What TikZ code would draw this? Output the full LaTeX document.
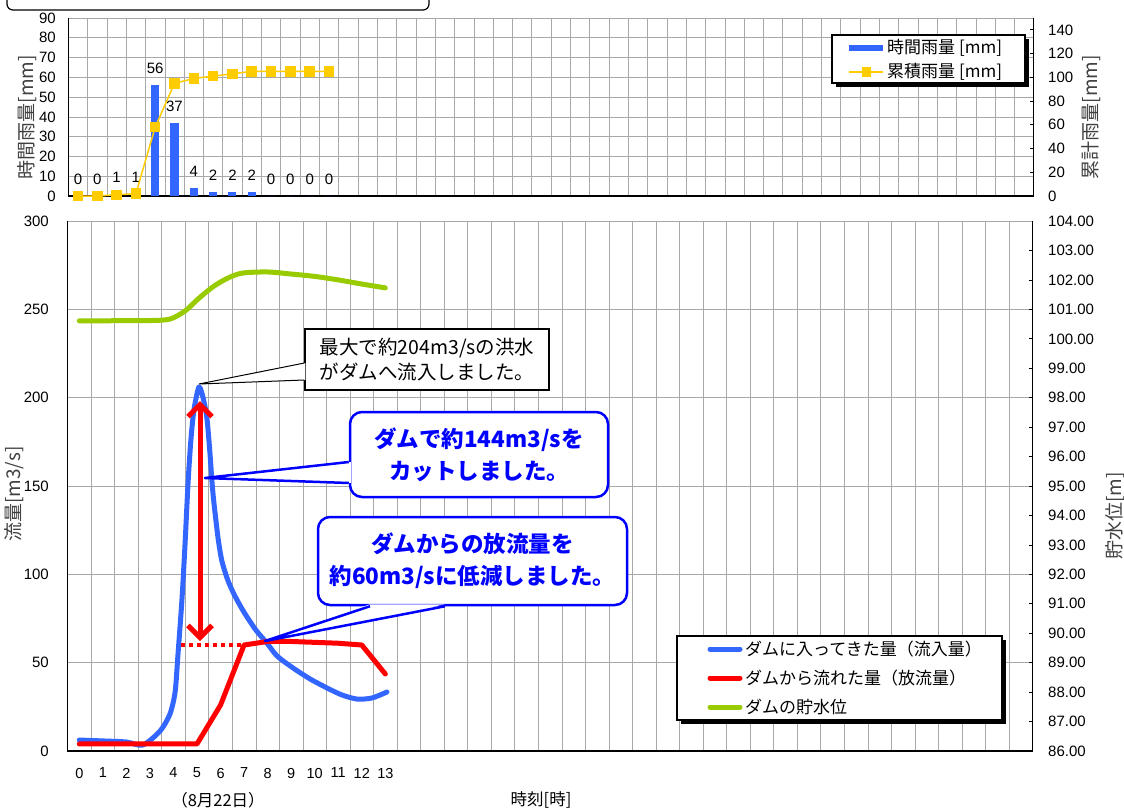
\documentclass[tikz,border=0pt]{standalone}
\usepackage{fontspec}
\setmainfont{Liberation Sans}
\newfontfamily\jp{Noto Sans CJK JP}
\usetikzlibrary{arrows.meta, plotmarks}

\definecolor{inflowblue}{HTML}{3366FF}
\definecolor{releasered}{HTML}{FF0000}
\definecolor{levelgreen}{HTML}{99CC00}
\definecolor{rainyellow}{HTML}{FFCC00}
\definecolor{noteblue}{HTML}{0000FF}
\definecolor{gridgray}{HTML}{A8A8A8}

\tikzset{
  grid line/.style = {gridgray, line width=0.6pt},
  axis line/.style = {black, line width=1.2pt},
  tick label/.style = {font=\fontsize{15}{15}\selectfont, inner sep=0pt},
  axis title/.style = {font=\jp\fontsize{19}{19}\selectfont, rotate=90, inner sep=0pt, text=black!75},
  curve/.style = {line width=5pt, line cap=round, line join=round},
  legend box/.style = {draw=black, line width=1.2pt, fill=white, inner sep=0pt},
  legend text/.style = {font=\jp\fontsize{17}{18}\selectfont, anchor=west, inner sep=0pt},
  peak box/.style = {draw=black, line width=1.2pt, fill=white, align=center,
    font=\jp\fontsize{19.5}{25}\selectfont},
  note box/.style = {draw=noteblue, line width=2.5pt, fill=white, rounded corners=12pt,
    align=center, text=noteblue, font=\jp\bfseries\fontsize{22.5}{32}\selectfont},
  cut arrow/.style = {releasered, line width=5pt,
    {Straight Barb[length=12pt, width=24pt]}-{Straight Barb[length=12pt, width=24pt]}},
}

\begin{document}
\begin{tikzpicture}[x=1pt, y=-1pt]
  \useasboundingbox (0,0) rectangle (1124,808);
  \fill[white] (0,0) rectangle (1124,808);

  % title frame, cut off at the top
  \draw[line width=1.2pt, rounded corners=6pt] (7,0) -- (7,10) -- (429,10) -- (429,0);

  % --- rainfall chart ---
  \foreach \k in {1,...,49}
    \draw[grid line] ({68.3+19.31*\k},18) -- ({68.3+19.31*\k},196);
  \foreach \v in {10,20,...,90}
    \draw[grid line] (68.3,{196-1.978*\v}) -- (1033.8,{196-1.978*\v});
  \foreach \v in {20,40,...,140}
    \draw[black, line width=0.8pt] (1030,{196-1.1867*\v}) -- (1033.8,{196-1.1867*\v});
  \draw[axis line] (68.3,18) -- (68.3,196) -- (1033.8,196) -- (1033.8,18);
  \foreach \v in {0,10,...,90}
    \node[tick label, anchor=east] (rain tick \v) at (56,{196-1.978*\v}) {\v};
  \foreach \v in {0,20,...,140}
    \node[tick label, anchor=west] (total tick \v) at (1048,{196-1.1867*\v}) {\v};
  \node[axis title] (rain title) at (27,117) {時間雨量[mm]};
  \node[axis title] (total title) at (1091,117) {累計雨量[mm]};

  \begin{scope}[shift={(77.95,196)}, x=19.31pt, y=1.978pt]
    \foreach \h/\r in {0/0,1/0,2/1,3/1,4/56,5/37,6/4,7/2,8/2,9/2,10/0,11/0,12/0,13/0} {
      \fill[inflowblue] ({\h-0.21},0) rectangle ({\h+0.21},\r);
      \node[tick label, anchor=base, yshift=11.5pt] (rain \h) at (\h,\r) {\r};
    }
  \end{scope}
  \begin{scope}[shift={(77.95,196)}, x=19.31pt, y=1.1867pt]
    \draw[rainyellow, line width=1.5pt, mark=square*, mark size=4.5pt,
          mark options={fill=rainyellow, draw=rainyellow}]
      plot coordinates {(0,0) (1,0) (2,1) (3,2) (4,58) (5,95) (6,99) (7,101) (8,103)
                        (9,105) (10,105) (11,105) (12,105) (13,105)};
  \end{scope}

  % rainfall legend
  \fill[black] (836,39) rectangle (1029,87);
  \node[legend box, minimum width=193pt, minimum height=48pt] (rain legend) at (928.5,59) {};
  \draw[inflowblue, line width=6pt] (849,48) -- (883,48);
  \node[legend text] (legend hourly) at (887,48) {時間雨量 [mm]};
  \draw[rainyellow, line width=1.5pt] (849,72) -- (883,72);
  \fill[rainyellow] (861.5,67.5) rectangle (870.5,76.5);
  \node[legend text] (legend total) at (887,72) {累積雨量 [mm]};

  % --- flow chart ---
  \foreach \k in {1,...,40}
    \draw[grid line] ({67.5+23.54*\k},221) -- ({67.5+23.54*\k},751);
  \foreach \v in {50,100,...,300}
    \draw[grid line] (67.5,{751-1.7667*\v}) -- (1032.6,{751-1.7667*\v});
  \foreach \m in {87,...,103}
    \draw[black, line width=0.8pt] (1028.8,{751-29.44*(\m-86)}) -- (1032.6,{751-29.44*(\m-86)});
  \draw[axis line] (67.5,221) -- (67.5,751) -- (1032.6,751) -- (1032.6,221);
  \foreach \v in {0,50,...,300}
    \node[tick label, anchor=east] (flow tick \v) at (49,{751-1.7667*\v}) {\v};
  \foreach \m in {86,...,104}
    \node[tick label, anchor=west] (level tick \m) at (1048,{751-29.44*(\m-86)}) {\m.00};
  \foreach \h in {0,...,13}
    \node[tick label, font=\fontsize{14.5}{14.5}\selectfont] (hour \h) at ({79.3+23.54*\h},773) {\h};
  \node[font=\jp\fontsize{16.5}{16.5}\selectfont, inner sep=0pt] (date) at (218,800) {（8月22日）};
  \node[font=\jp\fontsize{16.5}{16.5}\selectfont, inner sep=0pt] (time title) at (541,800) {時刻[時]};
  \node[axis title] (flow title) at (14,494) {流量[m3/s]};
  \node[axis title] (level title) at (1115,516) {貯水位[m]};

  % storage level
  \begin{scope}[shift={(79.3,3282.8)}, x=23.54pt, y=29.44pt]
    \draw[curve, levelgreen] plot[smooth, tension=0.5] coordinates {
      (0,100.61) (1,100.61) (2,100.62) (3,100.62) (3.85,100.67) (4.5,100.95)
      (5,101.32) (5.55,101.69) (6,101.93) (6.5,102.13) (7,102.24) (8,102.27)
      (9,102.2) (10,102.12) (11,102.0) (12,101.86) (13,101.73)};
  \end{scope}

  % inflow and outflow
  \begin{scope}[shift={(79.3,751)}, x=23.54pt, y=1.7667pt]
    \draw[curve, inflowblue] plot[smooth, tension=0.45] coordinates {
      (0,6.2) (1,5.7) (2,5.1) (2.7,3.4) (3.43,11.3) (3.85,20.9) (4.07,33.4)
      (4.19,54.3) (4.36,85.5) (4.49,116.6) (4.62,151.7) (4.74,176) (4.87,193)
      (5.08,206) (5.25,200.4) (5.42,188.5) (5.55,168.7) (5.64,151.7) (5.72,140.4)
      (5.89,121) (6.05,108) (6.3,97) (6.6,88) (7.0,78.5) (7.5,68.5)
      (7.97,61.1) (8.4,53.8) (9.08,47) (9.8,40.8) (10.52,35.7) (11.16,31.7)
      (11.8,29.4) (12.43,30) (13.07,33.4)};
    \draw[curve, releasered] plot coordinates {
      (0,4) (1,4) (2,4) (3,4) (4,4) (5,4) (6,26) (7,60) (8,62) (9,62)
      (10,61.5) (11,61) (12,60) (13,43.6)};
  \end{scope}

  % cut amount
  \coordinate (cut top) at (200,401);
  \coordinate (cut bottom) at (200,641);
  \coordinate (cut level) at (181,645);
  \coordinate (release max) at (243,645);
  \draw[releasered, line width=4pt, dash pattern=on 4pt off 4pt] (cut level) -- (release max);
  \draw[cut arrow] (cut top) -- (cut bottom);

  % callouts
  \coordinate (peak) at (199,384);
  \node[peak box, minimum width=244pt, minimum height=61pt] (peak note) at (427,359.5)
    {最大で約204m3/sの洪水\\がダムへ流入しました。};
  \fill[white] ([xshift=1pt, yshift=-3.5pt]peak note.west) -- (peak)
    -- ([xshift=1pt, yshift=-20.5pt]peak note.west) -- cycle;
  \draw[line width=1pt] ([yshift=-3.5pt]peak note.west) -- (peak)
    -- ([yshift=-20.5pt]peak note.west);

  \coordinate (cut point) at (205,478);
  \node[note box, minimum width=258pt, minimum height=85pt] (cut note) at (479,454.5)
    {ダムで約144m3/sを\\カットしました。};
  \fill[white] ([xshift=2pt, yshift=-7.5pt]cut note.west) -- (cut point)
    -- ([xshift=2pt, yshift=-28.5pt]cut note.west) -- cycle;
  \draw[noteblue, line width=2.5pt, line join=round] ([yshift=-7.5pt]cut note.west) -- (cut point)
    -- ([yshift=-28.5pt]cut note.west);

  \coordinate (release point) at (265,641);
  \node[note box, minimum width=309pt, minimum height=88pt] (release note) at (472.5,561)
    {ダムからの放流量を\\約60m3/sに低減しました。};
  \fill[white] ([xshift=-102.5pt, yshift=2pt]release note.south) -- (release point)
    -- ([xshift=-27.5pt, yshift=2pt]release note.south) -- cycle;
  \draw[noteblue, line width=2.5pt, line join=round] ([xshift=-102.5pt]release note.south) -- (release point)
    -- ([xshift=-27.5pt]release note.south);

  % flow legend
  \fill[black] (681,640) rectangle (1006,724);
  \node[legend box, minimum width=325pt, minimum height=84pt] (flow legend) at (839.5,678) {};
  \draw[curve, inflowblue] (710,649) -- (740,649);
  \node[legend text] (legend inflow) at (745,649) {ダムに入ってきた量（流入量）};
  \draw[curve, releasered] (710,678) -- (740,678);
  \node[legend text] (legend release) at (745,678) {ダムから流れた量（放流量）};
  \draw[curve, levelgreen] (710,707) -- (740,707);
  \node[legend text] (legend level) at (745,707) {ダムの貯水位};
\end{tikzpicture}
\end{document}
